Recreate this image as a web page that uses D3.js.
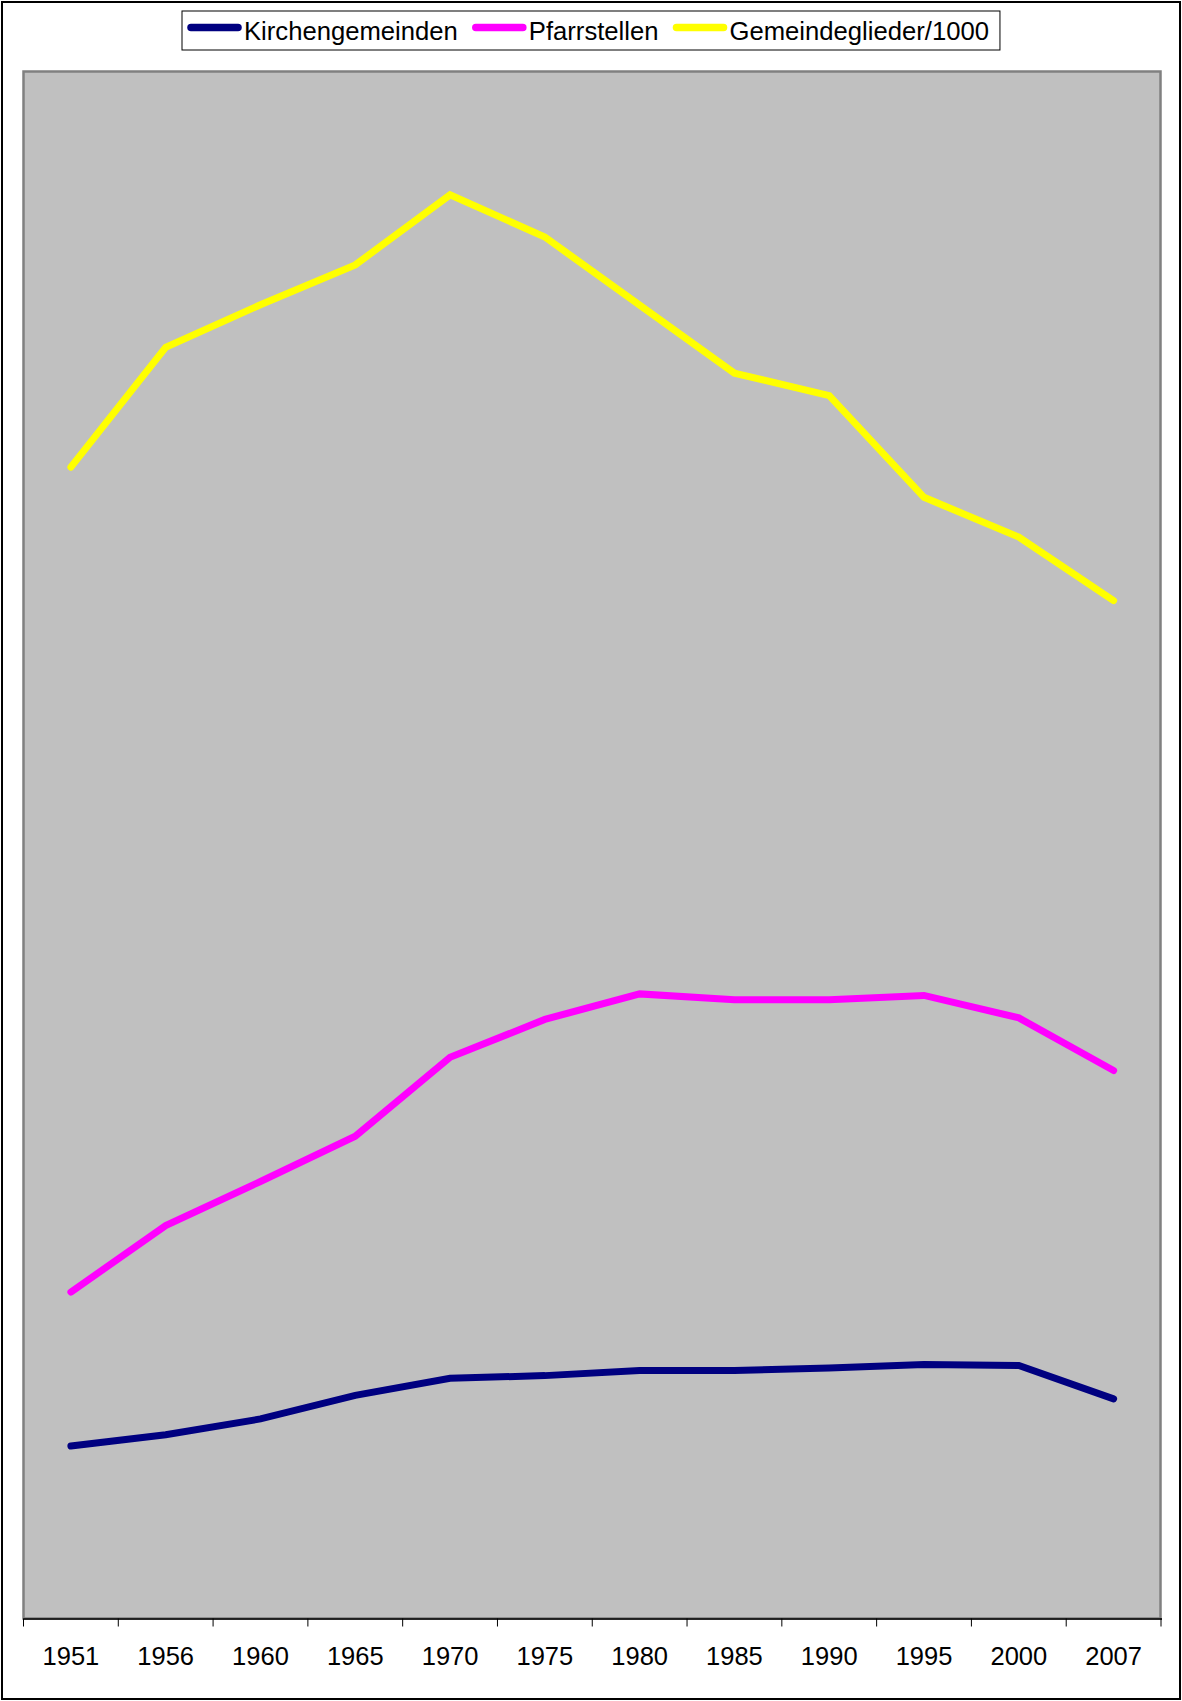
<!DOCTYPE html>
<html>
  <head>
    <meta charset="utf-8">
    <script src="https://d3js.org/d3.v7.min.js" charset="utf-8"></script>
    <style>
      body { margin: 0; background: #fff; }
      text { font-family: "Liberation Sans", Arial, sans-serif; }
    </style>
  </head>
  <body>
    <script type="text/javascript">

// values (hidden y axis, assumed 0..4000)
var years = ["1951", "1956", "1960", "1965", "1970", "1975", "1980", "1985", "1990", "1995", "2000", "2007"];
var kirchengemeinden = [446, 475, 516, 577, 621, 628, 641, 641, 648, 657, 654, 568];
var pfarrstellen     = [844, 1016, 1130, 1247, 1451, 1549, 1615, 1600, 1600, 1611, 1553, 1417];
var gemeindeglieder  = [2977, 3287, 3397, 3500, 3681, 3572, 3396, 3220, 3162, 2899, 2796, 2632];

var seriesNames  = ["Kirchengemeinden", "Pfarrstellen", "Gemeindeglieder/1000"];
var seriesValues = [kirchengemeinden, pfarrstellen, gemeindeglieder];
var seriesColors = ["#000080", "#ff00ff", "#ffff00"];

var w = 1182;
var h = 1701;

var plot = { left: 23.5, right: 1161, top: 71.5, bottom: 1618.5 };

var svg =
  d3.select("body")
    .append("svg")
    .attr("width", w)
    .attr("height", h);

// outer frame
svg.append("rect")
    .attr("x", 2).attr("y", 2)
    .attr("width", 1178).attr("height", 1697)
    .style("fill", "#fff")
    .style("stroke", "#000")
    .style("stroke-width", 2);

var x = d3.scaleBand()
    .domain(years)
    .range([plot.left, plot.right]);

var y = d3.scaleLinear()
    .domain([0, 4000])
    .range([plot.bottom, plot.top]);

// plot area
svg.append("rect")
    .attr("x", plot.left).attr("y", plot.top)
    .attr("width", plot.right - plot.left - 0.5)
    .attr("height", plot.bottom - plot.top)
    .style("fill", "#c0c0c0")
    .style("stroke", "#808080")
    .style("stroke-width", 2.5);

// x axis line and ticks between categories
svg.append("line")
    .attr("x1", plot.left).attr("x2", plot.right + 1)
    .attr("y1", plot.bottom + 0.5).attr("y2", plot.bottom + 0.5)
    .style("stroke", "#000")
    .style("stroke-width", 1.5);

var edges = years.map(function(d) { return x(d); }).concat([x.range()[1]]);
svg.selectAll("line.tick")
    .data(edges)
    .enter()
    .append("line")
    .attr("class", "tick")
    .attr("x1", function(d) { return d; })
    .attr("x2", function(d) { return d; })
    .attr("y1", plot.bottom)
    .attr("y2", plot.bottom + 8)
    .style("stroke", "#000")
    .style("stroke-width", 1);

var xAxis = svg.append("g")
    .attr("transform", "translate(0,1665)")
    .call(d3.axisBottom(x).tickSize(0));
xAxis.select(".domain").remove();
xAxis.selectAll("text")
    .attr("y", 0)
    .attr("dy", null)
    .style("font-family", "'Liberation Sans', Arial, sans-serif")
    .style("font-size", "25.5px")
    .style("fill", "#000");

// lines
var line = d3.line()
    .x(function(d, i) { return x(years[i]) + x.bandwidth() / 2; })
    .y(function(d) { return y(d); });

svg.selectAll("path.series")
    .data(seriesValues)
    .enter()
    .append("path")
    .attr("class", "series")
    .attr("d", line)
    .style("fill", "none")
    .style("stroke", function(d, i) { return seriesColors[i]; })
    .style("stroke-width", 7)
    .style("stroke-linejoin", "miter")
    .style("stroke-linecap", "round");

// legend
var legend = svg.append("g");
var legendBox = legend.append("rect")
    .attr("x", 182).attr("y", 11)
    .attr("height", 39)
    .style("fill", "#fff")
    .style("stroke", "#000")
    .style("stroke-width", 1);

var lx = 187;
seriesNames.forEach(function(name, i) {
  legend.append("line")
      .attr("x1", lx + 4).attr("x2", lx + 51)
      .attr("y1", 27.5).attr("y2", 27.5)
      .style("stroke", seriesColors[i])
      .style("stroke-width", 7.5)
      .style("stroke-linecap", "round");
  var t = legend.append("text")
      .attr("x", lx + 57)
      .attr("y", 39.5)
      .style("font-size", "25.65px")
      .style("fill", "#000")
      .text(name);
  lx = lx + 57 + t.node().getComputedTextLength() + 14;
});
legendBox.attr("width", lx - 14 + 11 - 182);

    </script>
  </body>
</html>
